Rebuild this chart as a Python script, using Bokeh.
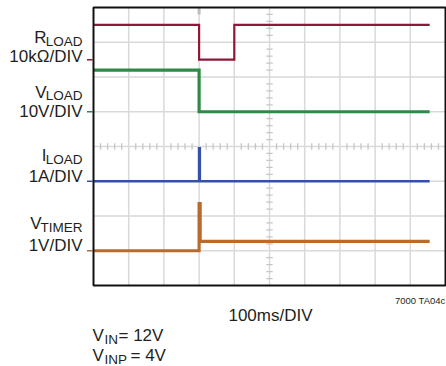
from bokeh.plotting import figure
from bokeh.models import Range1d
from bokeh.core.properties import value
from bokeh.embed import file_html
from bokeh.resources import INLINE

# ---------------- data (read from the scope shot) ----------------
# time in ms, 100 ms / DIV
t_rload = [0, 300, 300, 400, 400, 955]
r_load = [10, 10, 0, 0, 10, 10]          # kOhm, 10 kOhm / DIV
t_vload = [0, 300, 300, 955]
v_load = [12, 12, 0, 0]                   # V, 10 V / DIV
t_iload = [0, 300, 300, 302, 302, 955]
i_load = [0, 0, 0.95, 0.95, 0, 0]         # A, 1 A / DIV
t_timer = [0, 300, 300, 303, 303, 955]
v_timer = [0, 0, 1.36, 1.36, 0.27, 0.27]  # V, 1 V / DIV

time_per_div = 100.0
traces = [
    # (t, values, per-div, ground level in divisions, colour, width)
    (t_rload, r_load, 10.0, 6.5, "#8f1737", 2.2),
    (t_vload, v_load, 10.0, 5.0, "#2f8a48", 3.2),
    (t_iload, i_load, 1.0, 3.0, "#3450a8", 2.6),
    (t_timer, v_timer, 1.0, 1.0, "#b86b2c", 3.2),
]

# ---------------- layout helpers (canvas px -> divisions) ----------------
W, H = 446, 366
GX0, GX1 = 93.0, 445.0     # grid left/right in canvas px
GY0, GY1 = 7.0, 285.0      # grid top/bottom in canvas px
PXX = (GX1 - GX0) / 10
PXY = (GY1 - GY0) / 8


def X(px):
    return (px - GX0) / PXX


def Y(py):
    return 8 - (py - GY0) / PXY


p = figure(width=W, height=H, output_backend="svg", toolbar_location=None,
           x_range=Range1d(X(0), X(W)), y_range=Range1d(Y(H), Y(0)),
           x_axis_type=None, y_axis_type=None, min_border=0,
           background_fill_color="white", border_fill_color="white")
p.outline_line_color = None
p.xgrid.visible = False
p.ygrid.visible = False

# grid
grid_col = "#d9d9d9"
p.segment(x0=list(range(1, 10)), y0=[0] * 9, x1=list(range(1, 10)), y1=[8] * 9,
          line_color=grid_col, line_width=1.5)
p.segment(x0=[0] * 7, y0=list(range(1, 8)), x1=[10] * 7, y1=list(range(1, 8)),
          line_color=grid_col, line_width=1.5)

# minor ticks on centre lines
tkx = 3.2 / PXX
tky = 3.2 / PXY
hx = [i * 0.2 for i in range(1, 50) if i % 5]
vy = [i * 0.2 for i in range(1, 40) if i % 5]
p.segment(x0=hx, y0=[4 - tky] * len(hx), x1=hx, y1=[4 + tky] * len(hx),
          line_color="#c6c6c6", line_width=1.3)
p.segment(x0=[5 - tkx] * len(vy), y0=vy, x1=[5 + tkx] * len(vy), y1=vy,
          line_color="#c6c6c6", line_width=1.3)

# trigger marker
p.segment(x0=[3], y0=[8], x1=[3], y1=[8 - 7 / PXY], line_color="#bdbdbd", line_width=3)

# traces and ground markers
for t, vals, per_div, g, col, lw in traces:
    xs = [ti / time_per_div for ti in t]
    ys = [g + v / per_div for v in vals]
    p.line(xs, ys, line_color=col, line_width=lw, line_join="miter")
    p.segment(x0=[X(86.5)], y0=[g], x1=[X(92)], y1=[g], line_color=col, line_width=1.5)

# frame
p.quad(left=[0], right=[10], bottom=[0], top=[8], fill_color=None,
       line_color="#111111", line_width=2)

FONT = value("Liberation Sans")
TXT = "#231f20"
MAIN, SUB = "17px", "13.5px"


def txt(px, py, s, size, align="right"):
    p.text(x=[X(px)], y=[Y(py)], text=[s], text_font=FONT, text_font_size=value(size),
           text_align=align, text_baseline="alphabetic", text_color=TXT)


# channel labels
txt(46, 37, "R", MAIN); txt(82, 41, "LOAD", SUB); txt(82, 56, "10kΩ/DIV", MAIN)
txt(46, 92, "V", MAIN); txt(82, 95, "LOAD", SUB); txt(82, 111, "10V/DIV", MAIN)
txt(46, 155, "I", MAIN); txt(82, 159, "LOAD", SUB); txt(82, 176, "1A/DIV", MAIN)
txt(41, 223, "V", MAIN); txt(82, 227, "TIMER", SUB); txt(82, 245, "1V/DIV", MAIN)

# bottom texts
txt(270, 315, "100ms/DIV", MAIN, "center")
txt(445, 300, "7000 TA04c", "9.5px")
txt(92, 335, "V", MAIN, "left"); txt(104, 339, "IN", SUB, "left"); txt(118, 335, "= 12V", MAIN, "left")
txt(92, 355, "V", MAIN, "left"); txt(104, 359, "INP", SUB, "left"); txt(130, 355, "= 4V", MAIN, "left")

open("out.html", "w").write(file_html(p, INLINE))
